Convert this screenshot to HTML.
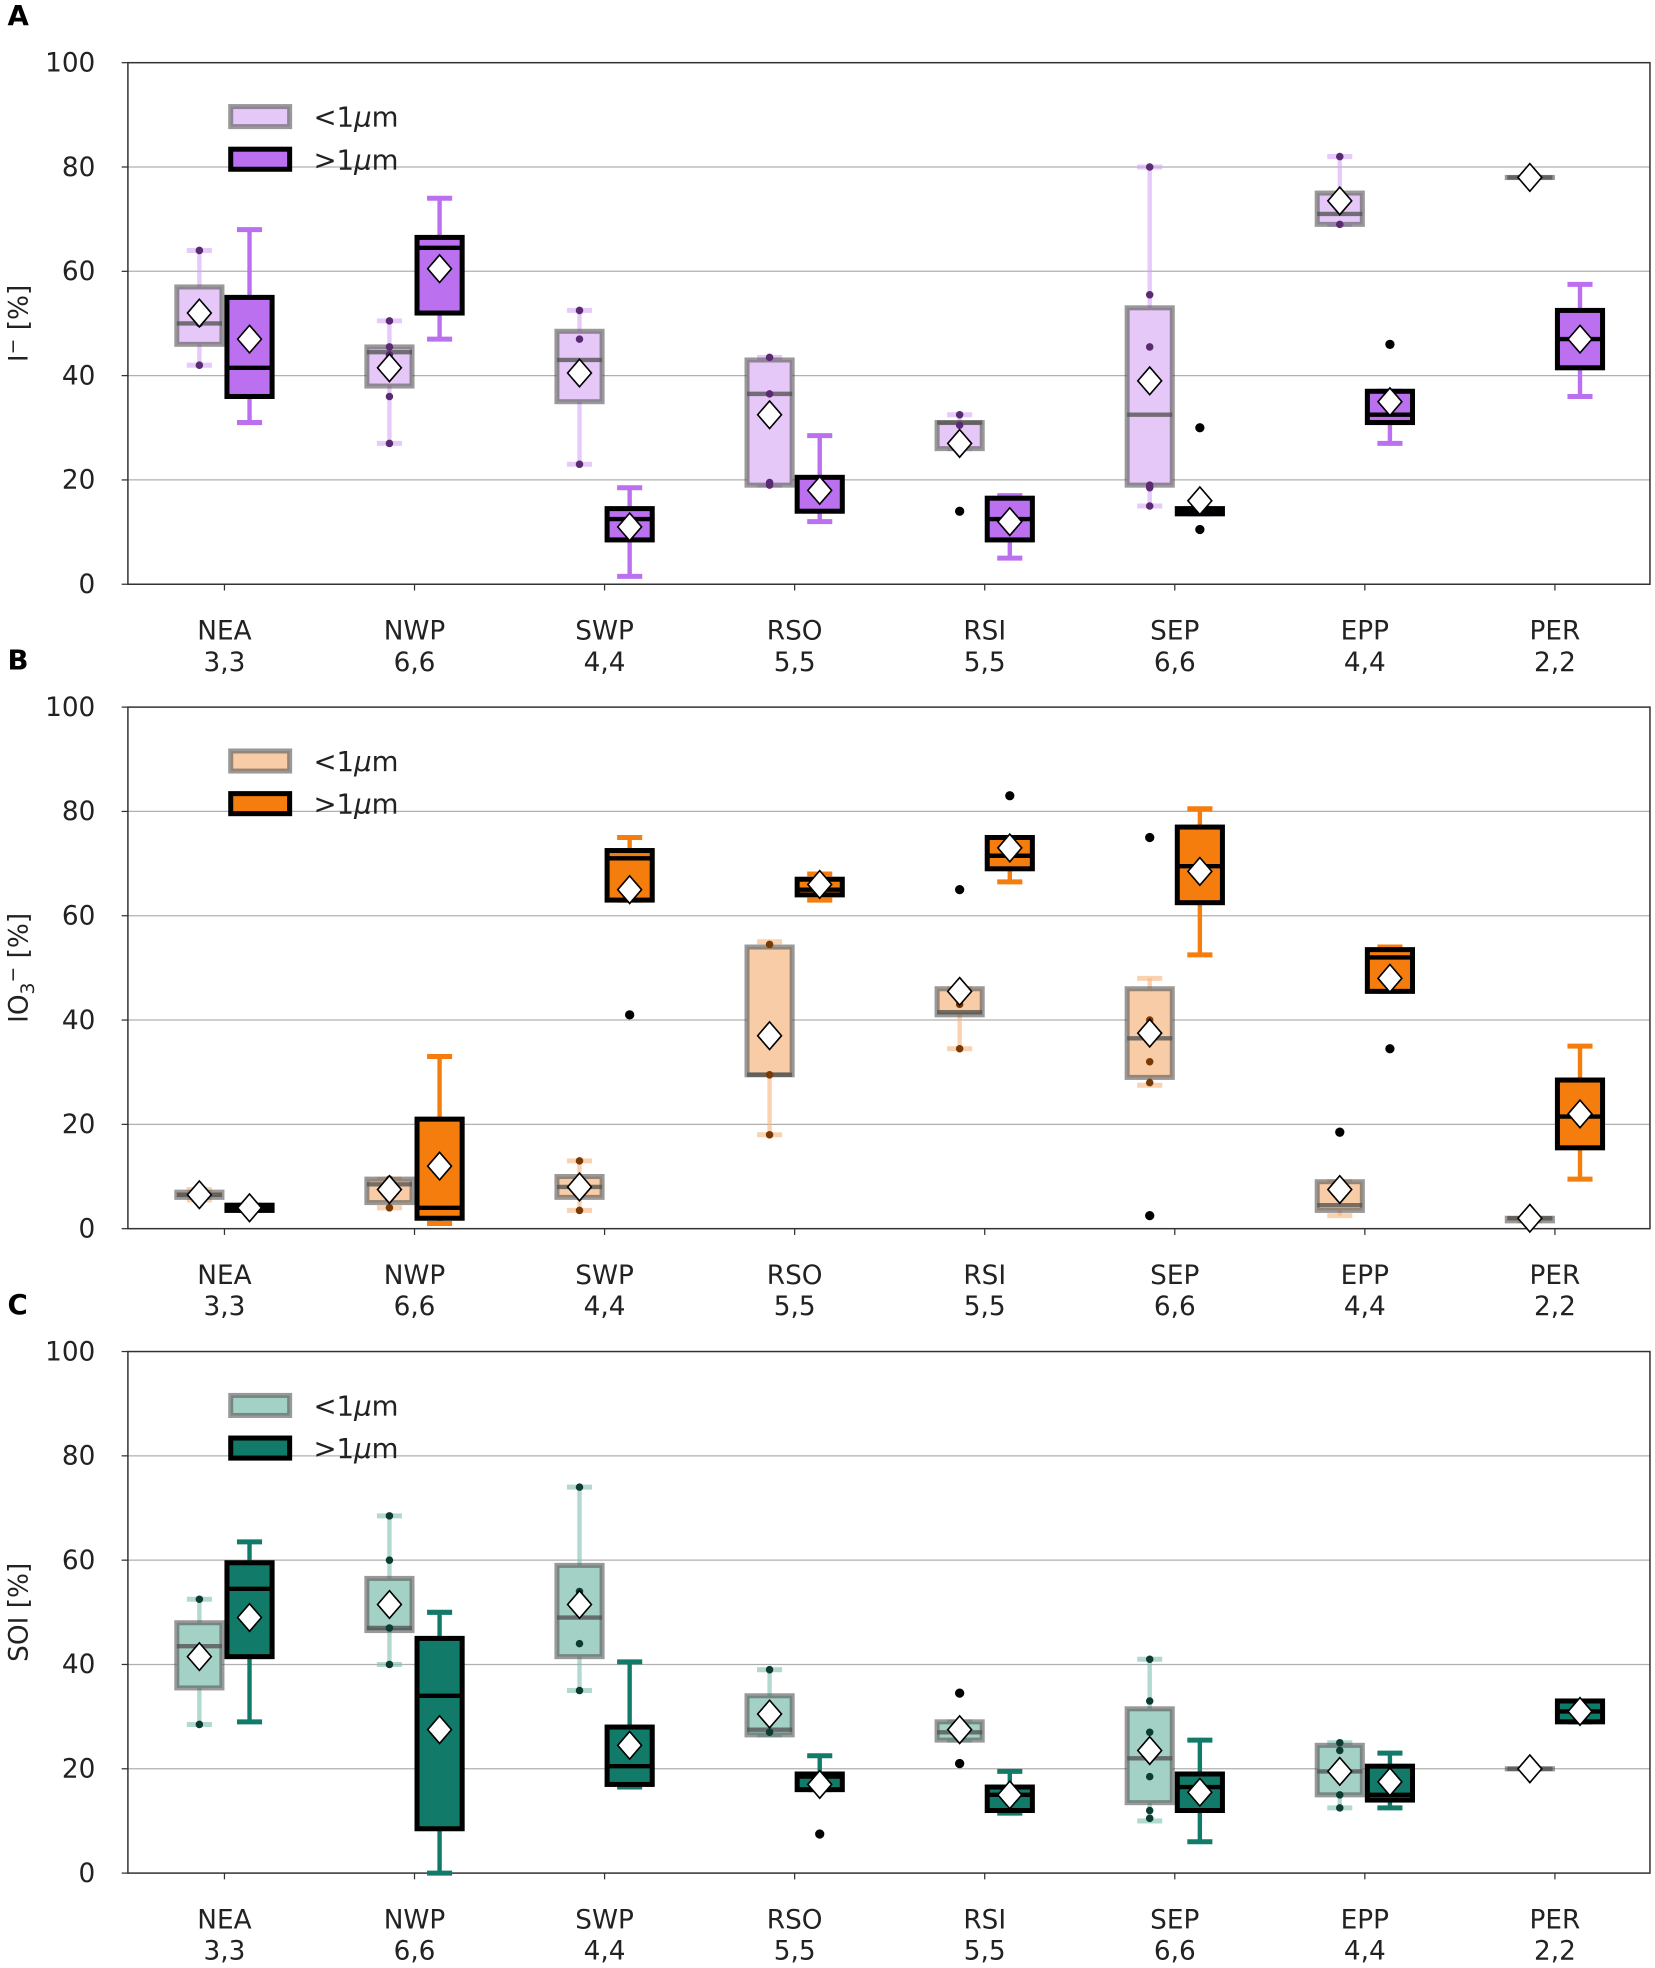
<!DOCTYPE html>
<html><head><meta charset="utf-8"><style>
html,body{margin:0;padding:0;background:#fff;}
svg{display:block;font-family:"DejaVu Sans","Liberation Sans",sans-serif;}
</style></head><body>
<svg id="fig" width="1655" height="1968" viewBox="0 0 1320 1569.7" xmlns="http://www.w3.org/2000/svg"></svg>
<script>
const categories = ["NEA","NWP","SWP","RSO","RSI","SEP","EPP","PER"];
const counts = ["3,3","6,6","4,4","5,5","5,5","6,6","4,4","2,2"];
const yTicks = [0,20,40,60,80,100];
// box stats: [whiskerLow, q1, median, q3, whiskerHigh, mean]
const iodideFine = [[42,46,50,57,64,52],[27,38,44.5,45.5,50.5,41.5],[23,35,43,48.5,52.5,40.5],[19,19,36.5,43,43.5,32.5],[26,26,31,31,32.5,27],[15,19,32.5,53,80,39],[69,69,71,75,82,73.5],[78,78,78,78,78,78]];
const iodideCoarse = [[31,36,41.5,55,68,47],[47,52,64.5,66.5,74,60.5],[1.5,8.5,12.5,14.5,18.5,11],[12,14,14,20.5,28.5,18],[5,8.5,12.5,16.5,17,12],[13.5,13.5,14,14.5,14.5,16],[27,31,32.5,37,37,35],[36,41.5,47,52.5,57.5,47]];
const iodideFinePts = [[64,50,42],[50.5,45.5,44,36,27],[52.5,47,23],[43.5,36.5,19.5,19],[32.5,30.5],[80,55.5,45.5,19,18.5,15],[82,69],[]];
const iodideFineFliers = [[],[],[],[],[14],[],[],[]];
const iodideCoarseFliers = [[],[],[],[],[],[30,10.5],[46],[]];
const iodateFine = [[5.5,6,6.5,7,7.5,6.5],[4,5,8.5,9.5,9.5,7.5],[3.5,6,8,10,13,8],[18,29.5,29.5,54,55,37],[34.5,41,41.5,46,46,45.5],[27.5,29,36.5,46,48,37.5],[2.5,3.5,4.5,9,9,7.5],[1.5,1.5,2,2,2,2]];
const iodateCoarse = [[3.5,3.5,4,4.5,4.5,4],[1,2,4,21,33,12],[63,63,71,72.5,75,65],[63,64,65,67,68,66],[66.5,69,71.5,75,75,73],[52.5,62.5,69.5,77,80.5,68.5],[45.5,45.5,52,53.5,54,48],[9.5,15.5,21.5,28.5,35,22]];
const iodateFinePts = [[],[9.5,4],[13,3.5],[54.5,29.5,18],[43,34.5],[40,32,28],[],[]];
const iodateFineFliers = [[],[],[],[],[65],[75,2.5],[18.5],[]];
const iodateCoarseFliers = [[],[],[41],[],[83],[],[34.5],[]];
const soiFine = [[28.5,35.5,43.5,48,52.5,41.5],[40,46.5,47,56.5,68.5,51.5],[35,41.5,49,59,74,51.5],[26.5,26.5,27.5,34,39,30.5],[25.5,25.5,27,29,29,27.5],[10,13.5,22,31.5,41,23.5],[12.5,15,19.5,24.5,25,19.5],[20,20,20,20,20,20]];
const soiCoarse = [[29,41.5,54.5,59.5,63.5,49],[0,8.5,34,45,50,27.5],[16.5,17,20.5,28,40.5,24.5],[16,16,18.5,19,22.5,17],[11.5,12,15,16.5,19.5,15],[6,12,16.5,19,25.5,15.5],[12.5,14,15,20.5,23,17.5],[29,29,31,33,33,31]];
const soiFinePts = [[52.5,28.5],[68.5,60,47,40],[74,54,44,35],[39,27],[],[41,33,27,18.5,12,10.5],[25,23.5,15,12.5],[]];
const soiFineFliers = [[],[],[],[],[34.5,21],[],[],[]];
const soiCoarseFliers = [[],[],[],[7.5],[],[],[],[]];

const NS="http://www.w3.org/2000/svg";
const svg=document.getElementById('fig');
function mk(tag,attrs,parent){const e=document.createElementNS(NS,tag);for(const k in attrs)e.setAttribute(k,attrs[k]);(parent||svg).appendChild(e);return e;}
const X0=102,X1=1316;
function xCat(i){return 179+i*151.6;}

function panel(cfg){
  const top=cfg.top,bot=cfg.top+416;
  const y=v=>bot-(v/100)*(bot-top);
  const g=mk('g',{});
  
  
  yTicks.forEach(t=>{
    if(t>0&&t<100){const l=mk('line',{x1:X0,x2:X1,y1:y(t),y2:y(t),stroke:'#b0b0b0','stroke-width':1},g);
    }
    mk('line',{x1:X0-5,x2:X0,y1:y(t),y2:y(t),stroke:'#333','stroke-width':1},g);
    const tx=mk('text',{x:X0-26,y:y(t)+7,'text-anchor':'end','font-size':21,fill:'#222'},g);
    tx.textContent=t;
    
  });
  const fr=mk('rect',{x:X0,y:top,width:X1-X0,height:bot-top,fill:'none',stroke:'#333','stroke-width':1.2},g);
  
  categories.forEach((c,i)=>{
    const cx=xCat(i);
    mk('line',{x1:cx,x2:cx,y1:bot,y2:bot+5,stroke:'#333','stroke-width':1},g);
    const t1=mk('text',{x:cx,y:bot+44,'text-anchor':'middle','font-size':21,fill:'#222'},g);t1.textContent=c;
    
    const t2=mk('text',{x:cx,y:bot+69,'text-anchor':'middle','font-size':21,fill:'#222'},g);t2.textContent=counts[i];
    
  });
  function drawBox(s,cx,fine,pts,fliers){
    const bg=mk('g',{},g);
    
    
    const wc=fine?cfg.light:cfg.dark, wo=fine?0.6:1;
    mk('line',{x1:cx,x2:cx,y1:y(s[0]),y2:y(s[1]),stroke:wc,'stroke-width':3.5,'stroke-opacity':wo},bg);
    mk('line',{x1:cx,x2:cx,y1:y(s[3]),y2:y(s[4]),stroke:wc,'stroke-width':3.5,'stroke-opacity':wo},bg);
    [s[0],s[4]].forEach(v=>mk('line',{x1:cx-10,x2:cx+10,y1:y(v),y2:y(v),stroke:wc,'stroke-width':4,'stroke-opacity':wo},bg));
    mk('rect',{x:cx-18,y:y(s[3]),width:36,height:Math.max(0.1,y(s[1])-y(s[3])),fill:fine?cfg.lightFill:cfg.dark,stroke:fine?'#555':'#000','stroke-opacity':fine?0.6:1,'stroke-width':4},bg);
    mk('line',{x1:cx-18,x2:cx+18,y1:y(s[2]),y2:y(s[2]),stroke:fine?'#555':'#000','stroke-opacity':fine?0.8:1,'stroke-width':3.5},bg);
    (pts||[]).forEach(v=>mk('circle',{cx:cx,cy:y(v),r:3,fill:cfg.ptCol},bg));
    (fliers||[]).forEach(v=>mk('circle',{cx:cx,cy:y(v),r:3.7,fill:'#000'},bg));
    const my=y(s[5]);
    mk('path',{d:`M${cx},${my-11} L${cx+9.5},${my} L${cx},${my+11} L${cx-9.5},${my} Z`,fill:'#fff',stroke:'#000','stroke-width':1.3},bg);
  }
  categories.forEach((c,i)=>{
    drawBox(cfg.fine[i],xCat(i)-20,true,cfg.finePts[i],cfg.fineFl[i]);
    drawBox(cfg.coarse[i],xCat(i)+20,false,[],cfg.coarseFl[i]);
  });
  const lg=mk('g',{},g);
  
  
  mk('rect',{x:184,y:top+35,width:47,height:16,fill:cfg.lightFill,stroke:'#555','stroke-opacity':0.6,'stroke-width':4},lg);
  mk('rect',{x:184,y:top+69,width:47,height:16,fill:cfg.dark,stroke:'#000','stroke-width':4},lg);
  const l1=mk('text',{x:250,y:top+51,'font-size':22,fill:'#222'},lg);l1.innerHTML='&lt;1<tspan font-style="italic">μ</tspan>m';
  
  const l2=mk('text',{x:250,y:top+85,'font-size':22,fill:'#222'},lg);l2.innerHTML='&gt;1<tspan font-style="italic">μ</tspan>m';
  
  const yl=mk('text',{transform:`translate(22,${(top+bot)/2}) rotate(-90)`,'text-anchor':'middle','font-size':21,fill:'#222'},g);
  yl.innerHTML=cfg.ylabel;
  
  const pl=mk('text',{x:6,y:top-30,'font-size':22,'font-weight':'bold',fill:'#000'},g);
  pl.textContent=cfg.letter;
  
}
panel({name:'panel-a-iodide',top:50,letter:'A',ylabel:'I<tspan dy="-7" font-size="15">−</tspan><tspan dy="7">  [%]</tspan>',
  light:'#d6a6f5',lightFill:'#e6c8f8',dark:'#bb70f0',ptCol:'#5b2a72',
  fine:iodideFine,coarse:iodideCoarse,finePts:iodideFinePts,fineFl:iodideFineFliers,coarseFl:iodideCoarseFliers});
panel({name:'panel-b-iodate',top:564,letter:'B',ylabel:'IO<tspan dy="5" font-size="15">3</tspan><tspan dy="-12" font-size="15">−</tspan><tspan dy="7"> [%]</tspan>',
  light:'#f6b47c',lightFill:'#f8cca6',dark:'#f57d0e',ptCol:'#7a3a05',
  fine:iodateFine,coarse:iodateCoarse,finePts:iodateFinePts,fineFl:iodateFineFliers,coarseFl:iodateCoarseFliers});
panel({name:'panel-c-soi',top:1078,letter:'C',ylabel:'SOI [%]',
  light:'#7fbfb0',lightFill:'#a3d1c6',dark:'#127a68',ptCol:'#0c3c32',
  fine:soiFine,coarse:soiCoarse,finePts:soiFinePts,fineFl:soiFineFliers,coarseFl:soiCoarseFliers});
</script>
</body></html>
